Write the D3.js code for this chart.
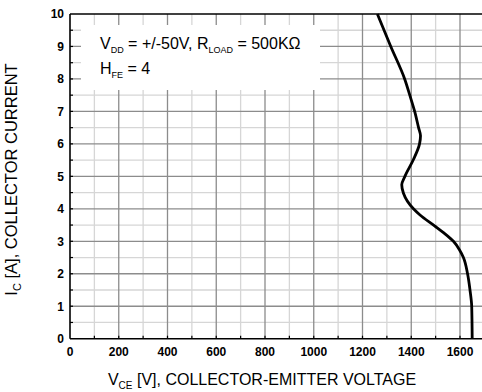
<!DOCTYPE html>
<html>
<head>
<meta charset="utf-8">
<script src="https://cdn.jsdelivr.net/npm/d3@7"></script>
<style>
  body { margin: 0; background: #fff; }
  text { font-family: "Liberation Sans", Arial, sans-serif; }
</style>
</head>
<body>
<div id="chart"></div>
<script>
// collector current (A) and the matching collector-emitter voltage (V)
const icValues  = [0, 1.0, 1.5, 2.0, 2.5, 2.75, 3.0, 3.25, 3.47, 3.81, 4.0, 4.48, 4.74, 5.0, 5.52, 6.0, 6.25, 6.5, 7.0, 7.5, 8.0, 9.0, 10];
const vceValues = [1650, 1648, 1641, 1631, 1614, 1597, 1573, 1535, 1497, 1436, 1409, 1368, 1361, 1374, 1409, 1434, 1438, 1430, 1414, 1394, 1373, 1316, 1261];

const xTicks = [0, 200, 400, 600, 800, 1000, 1200, 1400, 1600];
const yTicks = [0, 1, 2, 3, 4, 5, 6, 7, 8, 9, 10];

const W = 482, H = 392;
const plotLeft = 70, plotTop = 14, plotBottom = 338.7;

const x = d3.scaleLinear().domain([0, 1700]).range([plotLeft, plotLeft + 1700 * 0.24375]);
const y = d3.scaleLinear().domain([0, 10]).range([plotBottom, plotTop]);

const svg = d3.select("#chart").append("svg")
  .attr("width", W)
  .attr("height", H);

const grid = svg.append("g");

// minor grid every 100 V / 0.5 A
grid.selectAll(".vminor")
  .data(d3.range(100, 1800, 200))
  .enter().append("line")
  .attr("x1", d => x(d)).attr("x2", d => x(d))
  .attr("y1", y(0)).attr("y2", y(10))
  .attr("stroke", "#d6d6d6").attr("stroke-width", 1.3);

grid.selectAll(".hminor")
  .data(d3.range(0.5, 10, 1))
  .enter().append("line")
  .attr("x1", x(0)).attr("x2", W + 5)
  .attr("y1", d => y(d)).attr("y2", d => y(d))
  .attr("stroke", "#d6d6d6").attr("stroke-width", 1.3);

// major grid
grid.selectAll(".vmajor")
  .data(xTicks.slice(1))
  .enter().append("line")
  .attr("x1", d => x(d)).attr("x2", d => x(d))
  .attr("y1", y(0)).attr("y2", y(10))
  .attr("stroke", "#8c8c8c").attr("stroke-width", 1.3);

grid.selectAll(".hmajor")
  .data(yTicks.slice(1, -1))
  .enter().append("line")
  .attr("x1", x(0)).attr("x2", W + 5)
  .attr("y1", d => y(d)).attr("y2", d => y(d))
  .attr("stroke", "#8c8c8c").attr("stroke-width", 1.3);

// white box behind the conditions text
svg.append("rect")
  .attr("x", 81).attr("y", 25)
  .attr("width", 239).attr("height", 65)
  .attr("fill", "#fff");

// small inward ticks
svg.selectAll(".ytick")
  .data(d3.range(0.5, 10, 0.5))
  .enter().append("line")
  .attr("x1", x(0)).attr("x2", x(0) + 3)
  .attr("y1", d => y(d)).attr("y2", d => y(d))
  .attr("stroke", "#000").attr("stroke-width", 1.2);

svg.selectAll(".xtick")
  .data(d3.range(100, 1800, 100))
  .enter().append("line")
  .attr("x1", d => x(d)).attr("x2", d => x(d))
  .attr("y1", y(0)).attr("y2", y(0) - 3)
  .attr("stroke", "#000").attr("stroke-width", 1.2);

// frame
svg.append("line")
  .attr("x1", x(0)).attr("x2", W + 5)
  .attr("y1", y(10)).attr("y2", y(10))
  .attr("stroke", "#000").attr("stroke-width", 1.6);
svg.append("line")
  .attr("x1", x(0)).attr("x2", W + 5)
  .attr("y1", y(0)).attr("y2", y(0))
  .attr("stroke", "#000").attr("stroke-width", 1.6);
svg.append("line")
  .attr("x1", x(0)).attr("x2", x(0))
  .attr("y1", y(0)).attr("y2", y(10))
  .attr("stroke", "#000").attr("stroke-width", 1.6);

// tick labels
svg.selectAll(".xlab")
  .data(xTicks)
  .enter().append("text")
  .attr("x", d => x(d))
  .attr("y", 356)
  .attr("text-anchor", "middle")
  .attr("font-size", "12px")
  .attr("font-weight", "bold")
  .text(d => d);

svg.selectAll(".ylab")
  .data(yTicks)
  .enter().append("text")
  .attr("x", 64)
  .attr("y", d => y(d) + 4.3)
  .attr("text-anchor", "end")
  .attr("font-size", "12px")
  .attr("font-weight", "bold")
  .text(d => d);

// the curve (current is the independent variable here)
const line = d3.line()
  .x((d, i) => x(vceValues[i]))
  .y(d => y(d))
  .curve(d3.curveMonotoneY);

svg.append("path")
  .datum(icValues)
  .attr("d", line)
  .attr("fill", "none")
  .attr("stroke", "#000")
  .attr("stroke-width", 2.8);

// text with subscripts
function subText(sel, parts, subSize) {
  parts.forEach(p => {
    const t = sel.append("tspan").text(p[0]);
    if (p[1] === "sub") t.attr("font-size", subSize).attr("dy", 4);
    else if (p[1] === "up") t.attr("dy", -4);
  });
}

const t1 = svg.append("text").attr("x", 100).attr("y", 49).attr("font-size", "16px");
subText(t1, [["V"], ["DD", "sub"], [" = +/-50V, R", "up"], ["LOAD", "sub"], [" = 500K\u03a9", "up"]], "9px");

const t2 = svg.append("text").attr("x", 100).attr("y", 74).attr("font-size", "16px");
subText(t2, [["H"], ["FE", "sub"], [" = 4", "up"]], "9px");

// axis titles
const xt = svg.append("text")
  .attr("x", 262).attr("y", 385)
  .attr("text-anchor", "middle")
  .attr("font-size", "16px");
subText(xt, [["V"], ["CE", "sub"], [" [V], COLLECTOR-EMITTER VOLTAGE", "up"]], "10px");

const yt = svg.append("text")
  .attr("transform", "translate(17,179.5) rotate(-90)")
  .attr("text-anchor", "middle")
  .attr("font-size", "16.5px");
subText(yt, [["I"], ["C", "sub"], [" [A], COLLECTOR CURRENT", "up"]], "11px");
</script>
</body>
</html>
